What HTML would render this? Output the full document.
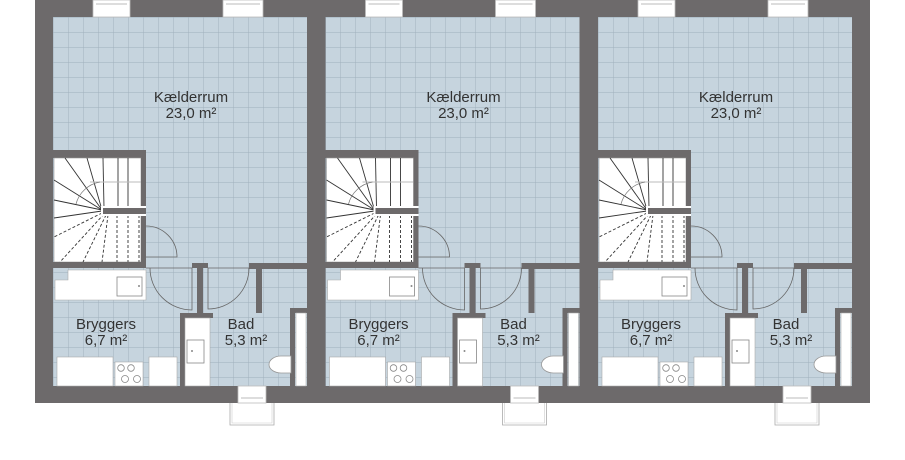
<!DOCTYPE html>
<html><head><meta charset="utf-8"><style>
html,body{margin:0;padding:0;background:#fff;width:905px;height:460px;overflow:hidden}
svg{display:block}
text{font-family:"Liberation Sans",sans-serif;font-size:15px;fill:#333;text-anchor:middle}
</style></head><body>
<svg width="905" height="460" viewBox="0 0 905 460" xmlns="http://www.w3.org/2000/svg">
<defs>
<pattern id="g" width="15" height="15" patternUnits="userSpaceOnUse" x="53" y="17">
<rect width="15" height="15" fill="#c6d4de"/>
<path d="M0 0H15M0 0V15" stroke="#9fafbc" stroke-width="0.9" fill="none"/>
</pattern>
<g id="u">
<rect x="53" y="17" width="254" height="369" fill="url(#g)"/>
<rect x="93" y="0" width="37" height="17" fill="#fff" stroke="#bbb" stroke-width="0.8"/>
<line x1="96" y1="4" x2="127" y2="4" stroke="#bbb"/>
<rect x="223" y="0" width="40" height="17" fill="#fff" stroke="#bbb" stroke-width="0.8"/>
<line x1="226" y1="4" x2="260" y2="4" stroke="#bbb"/>
<rect x="53" y="150" width="93" height="8" fill="#6d6a6b"/>
<rect x="54" y="158" width="87" height="104" fill="#fff" stroke="#999" stroke-width="0.6"/>
<rect x="141" y="158" width="5" height="110" fill="#6d6a6b"/>
<g stroke="#333" stroke-width="0.9">
<line x1="102" y1="210" x2="65" y2="158"/>
<line x1="102" y1="210" x2="87" y2="158"/>
<line x1="104" y1="208" x2="103" y2="158"/>
<line x1="118" y1="158" x2="118" y2="207"/>
<line x1="128" y1="158" x2="128" y2="207"/>
<line x1="90" y1="182" x2="141" y2="182" stroke="#bbb"/>
<line x1="102" y1="210" x2="54" y2="180"/>
<line x1="102" y1="210" x2="54" y2="200"/>
<line x1="102" y1="211" x2="54" y2="218"/>
</g>
<g stroke="#333" stroke-width="0.9" stroke-dasharray="3,2">
<line x1="102" y1="213" x2="54" y2="237"/>
<line x1="104" y1="214" x2="60" y2="262"/>
<line x1="106" y1="215" x2="83" y2="262"/>
<line x1="108" y1="215" x2="102" y2="262"/>
<line x1="117" y1="215" x2="117" y2="262"/>
<line x1="128" y1="215" x2="128" y2="262"/>
<line x1="139" y1="215" x2="139" y2="262"/>
</g>
<path d="M76 204 A30 30 0 0 1 100 182" fill="none" stroke="#777" stroke-width="0.7"/>
<rect x="101" y="206" width="45" height="10" fill="#fff"/>
<rect x="103" y="208" width="43" height="6" fill="#6d6a6b"/>
<rect x="53" y="262" width="93" height="6" fill="#6d6a6b"/>
<rect x="192" y="263" width="16" height="5" fill="#6d6a6b"/>
<rect x="197" y="263" width="6" height="54" fill="#6d6a6b"/>
<rect x="249" y="263" width="58" height="6" fill="#6d6a6b"/>
<rect x="256" y="263" width="6" height="50" fill="#6d6a6b"/>
<line x1="146" y1="268" x2="192" y2="268" stroke="#666" stroke-width="0.7"/>
<line x1="208" y1="268" x2="249" y2="268" stroke="#666" stroke-width="0.7"/>
<g fill="none" stroke="#666" stroke-width="0.8">
<path d="M146 226 A31 31 0 0 1 177 257 L146 257"/>
<path d="M150 268 A42 42 0 0 0 192 310 L192 268"/>
<path d="M249 268 A41 41 0 0 1 208 309 L208 268"/>
</g>
<path d="M68 270 H146 V300 H55 V280 H68 Z" fill="#fff" stroke="#aaa" stroke-width="0.6"/>
<rect x="117" y="277" width="25" height="19" fill="#fff" stroke="#888" stroke-width="0.8"/>
<circle cx="139" cy="286" r="1" fill="#888"/>
<rect x="180" y="313" width="33" height="5" fill="#6d6a6b"/>
<rect x="180" y="313" width="5" height="73" fill="#6d6a6b"/>
<rect x="185" y="318" width="25" height="68" fill="#fff" stroke="#aaa" stroke-width="0.6"/>
<rect x="187" y="340" width="17" height="23" fill="#fff" stroke="#888" stroke-width="0.8"/>
<circle cx="192" cy="351" r="1" fill="#888"/>
<rect x="290" y="308" width="17" height="5" fill="#6d6a6b"/>
<rect x="290" y="308" width="5" height="78" fill="#6d6a6b"/>
<rect x="296" y="313" width="10" height="73" fill="#fff" stroke="#aaa" stroke-width="0.6"/>
<path d="M291 356 H281 A12 8.5 0 0 0 281 373 H291 Z" fill="#fff" stroke="#999" stroke-width="0.8"/>
<rect x="57" y="357" width="56" height="29" fill="#fff" stroke="#aaa" stroke-width="0.6"/>
<rect x="115" y="362" width="28" height="24" fill="#fff" stroke="#aaa" stroke-width="0.6"/>
<g fill="none" stroke="#888" stroke-width="0.8">
<circle cx="121" cy="368" r="3.3"/><circle cx="131" cy="368" r="3.3"/>
<circle cx="125" cy="379" r="3.5"/><circle cx="137" cy="379" r="3.5"/>
</g>
<rect x="149" y="357" width="28" height="29" fill="#fff" stroke="#aaa" stroke-width="0.6"/>
<rect x="238" y="386" width="28" height="17" fill="#fff" stroke="#bbb" stroke-width="0.8"/>
<line x1="241" y1="398" x2="263" y2="398" stroke="#bbb"/>
<path d="M230 403 V425 H274 V403" fill="none" stroke="#aaa" stroke-width="0.8"/>
<path d="M232 403 V423 H272 V403" fill="none" stroke="#ccc" stroke-width="0.6"/>
<text x="191" y="102">Kælderrum</text>
<text x="191" y="118">23,0 m²</text>
<text x="106" y="329">Bryggers</text>
<text x="106" y="345">6,7 m²</text>
<text x="241" y="329">Bad</text>
<text x="246" y="345">5,3 m²</text>
</g>
</defs>
<rect x="35" y="0" width="835" height="403" fill="#6d6a6b"/>
<use href="#u"/>
<use href="#u" transform="translate(272.5,0)"/>
<use href="#u" transform="translate(545,0)"/>
</svg>
</body></html>
